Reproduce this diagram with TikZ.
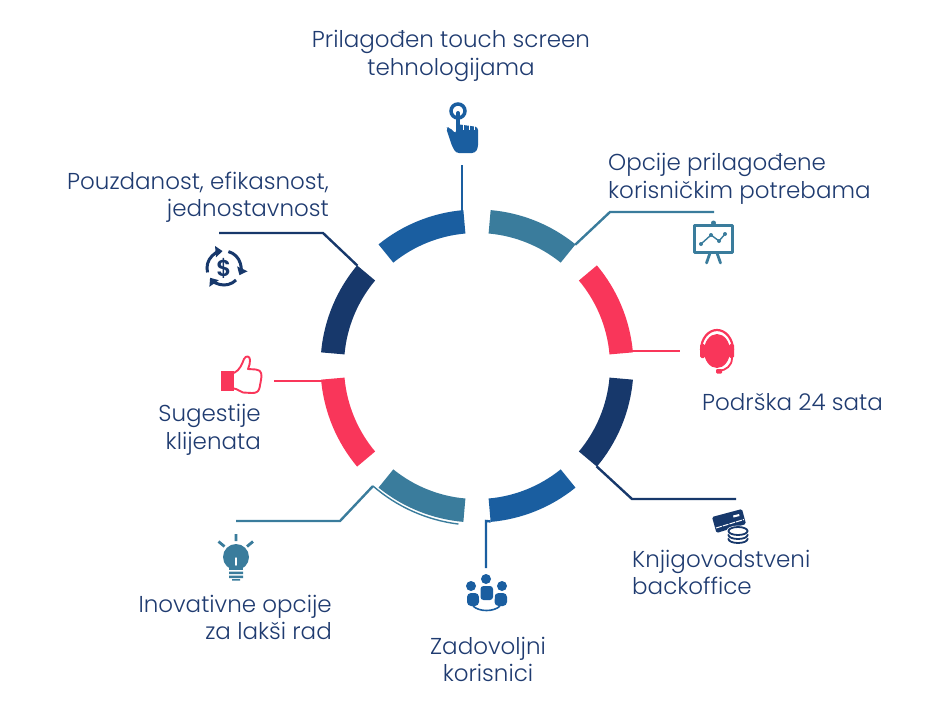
\documentclass[tikz,border=0pt]{standalone}
\usepackage{fontspec}
\setmainfont{Poppins Light}[BoldFont=Poppins SemiBold]
\usetikzlibrary{arrows.meta}
\definecolor{ringblue}{HTML}{1A5EA0}
\definecolor{ringteal}{HTML}{3A7C9C}
\definecolor{ringpink}{HTML}{F9365A}
\definecolor{ringnavy}{HTML}{17386B}
\definecolor{labeltext}{HTML}{1F3B70}
\newcommand{\ringseg}[3]{\fill[#1] (#2:156.5) arc (#2:#3:156.5) -- (#3:133) arc (#3:#2:133) -- cycle;}
\tikzset{
    caption/.style={text=labeltext,font=\fontsize{23}{27.5}\selectfont,inner sep=0pt},
    lead/.style={line width=2.4pt}
}
\begin{document}
\begin{tikzpicture}[x=1pt,y=-1pt]

    \useasboundingbox (0,0) rectangle (947,710);

    % ring
    \begin{scope}[shift={(477,366)}]
        \ringseg{ringteal}{-85}{-51}
        \ringseg{ringpink}{-40}{-5}
        \ringseg{ringnavy}{5}{40}
        \ringseg{ringblue}{51}{85}
        \ringseg{ringteal}{95}{129}
        \ringseg{ringpink}{140}{175}
        \ringseg{ringnavy}{-175}{-140}
        \ringseg{ringblue}{-129}{-95}

        \coordinate (topseg) at (-95:156);
        \coordinate (optseg) at (-51:156);
        \coordinate (supseg) at (-5:156);
        \coordinate (accseg) at (40:156);
        \coordinate (usrseg) at (85:156);
        \coordinate (sugseg) at (175:156);
        \coordinate (relseg) at (-140:156);
    \end{scope}

    % lead lines
    \coordinate (topend) at (462,165);
    \coordinate (optbend) at (610,212);
    \coordinate (optend) at (714,212);
    \coordinate (supend) at (680,351);
    \coordinate (accbend) at (632,499);
    \coordinate (accend) at (736,499);
    \coordinate (usrbend) at (486,521);
    \coordinate (usrend) at (486,568);
    \coordinate (inoend) at (236,521);
    \coordinate (inobend) at (340,521);
    \coordinate (inotip) at (373,486);
    \coordinate (sugend) at (274,381);
    \coordinate (relend) at (219,233);
    \coordinate (relbend) at (323,233);

    \draw[lead,ringblue] (topend) -- (topend |- topseg);
    \draw[lead,ringteal] (optseg) -- (optbend) -- (optend);
    \draw[lead,ringpink] (supend -| supseg) -- (supend);
    \draw[lead,ringnavy] (accseg) -- (accbend) -- (accend);
    \draw[lead,ringblue] (usrseg) -- (usrbend) -- (usrend);
    \draw[lead,ringteal] (inoend) -- (inobend) -- (inotip);
    \draw[ringteal,line width=1.4pt] (inotip) arc (131:97:160);
    \draw[lead,ringpink] (sugend) -- (sugend -| sugseg);
    \draw[lead,ringnavy] (relend) -- (relbend) -- (relseg);

    % hand icon
    \draw[ringblue,line width=3.5pt] (458,111) circle (7);
    \draw[ringblue,line width=4pt,line cap=round] (458,113) -- (458,130);
    \fill[ringblue,rounded corners=3pt] (446,128) -- (449,127) -- (456,134) -- (456,124) -- (478,127)
        -- (478,148) -- (475,153) -- (456,153) -- (452,146) -- cycle;
    \draw[white,line width=0.8pt] (463.5,123) -- (463.5,130) (469.5,123) -- (469.5,130) (474.5,124) -- (474.5,130);

    % chart icon
    \fill[ringteal] (713.5,223) circle (2.5);
    \draw[ringteal,line width=3pt,line join=round] (694.5,225.5) rectangle (732.5,252);
    \draw[ringteal,line width=2.8pt,line cap=round] (710,253) -- (706.5,263) (717,253) -- (720.5,263);
    \draw[ringteal,line width=1.4pt] (701,244) -- (711,235) -- (719,241) -- (725,234);
    \foreach \px/\py in {701/244,711/235,719/241,725/234}
        \fill[ringteal] (\px,\py) circle (2);

    % headset icon
    \fill[ringpink] (717,351) ellipse (13 and 17);
    \draw[ringpink,line width=2.2pt] (701,350) arc (180:360:16 and 20);
    \fill[ringpink,rounded corners=1.5pt] (700,344) rectangle (705,358) (729,344) rectangle (734,358);
    \draw[ringpink,line width=1.8pt] (732,358) .. controls (732,366) and (726,370) .. (719,371);
    \fill[ringpink,rounded corners=1pt] (716,369) rectangle (722,373.5);

    % card icon
    \fill[ringnavy,rounded corners=1.5pt] (712,517) -- (742,509) -- (746,524) -- (716.5,533) -- cycle;
    \draw[white,line width=1pt,dash pattern=on 6pt off 1pt] (716,528) -- (744,519.5);
    \fill[white] (733,515.5) -- (739,514) -- (739.5,516) -- (733.5,517.5) -- cycle;
    \foreach \py in {539,535,531}{
        \fill[white] (738,\py) ellipse (11.5 and 5.5);
        \draw[ringnavy,line width=1.8pt] (738,\py) ellipse (9.5 and 4);
    }

    % people icon
    \fill[ringblue] (486,579) circle (5);
    \fill[ringblue] (471,586) circle (5);
    \fill[ringblue] (502,586) circle (5);
    \fill[ringblue,rounded corners=4pt] (467,593) rectangle (479,606);
    \fill[ringblue,rounded corners=4pt] (494.5,593) rectangle (507,606);
    \fill[white,rounded corners=3pt] (479,584.5) rectangle (494.5,601.5);
    \fill[ringblue,rounded corners=3pt] (480.5,586) rectangle (493,600);
    \draw[ringblue,line width=1.6pt] (473,606) .. controls (479,612) and (494,612) .. (500,606);

    % bulb icon
    \fill[ringteal] (236,557) circle (13);
    \fill[ringteal] (229,565) -- (243,565) -- (243,570) -- (229,570) -- cycle;
    \fill[ringteal] (229,571.5) rectangle (243,574) (229,575.5) rectangle (243,578) (232,579) rectangle (240,580.5);
    \draw[white,line width=1.5pt,line cap=round] (236,558) -- (236,565);
    \draw[ringteal,line width=2.8pt] (236,534) -- (236,541) (218.5,541.5) -- (224.5,546.5) (253,541.5) -- (247,546.5);

    % dollar icon
    \foreach \ang in {-195,-75,45}
        \draw[ringnavy,line width=3pt,-{Triangle[length=7pt,width=11pt]}] (224,268) ++(\ang:17) arc (\ang:\ang+100:17);
    \node[ringnavy,font=\fontsize{23}{23}\selectfont\bfseries,inner sep=0pt] (dollar) at (224,268) {\$};

    % thumb icon
    \fill[ringpink] (221,371) rectangle (234,391);
    \draw[ringpink,line width=1.9pt,line join=round] (234,373) .. controls (240,370) and (242,364) .. (244,359)
        .. controls (246,355) and (250,356) .. (250,360) .. controls (250.5,363) and (249,366) .. (248,369)
        -- (256,369.5) .. controls (262,370) and (262,375) .. (261,380) -- (259.5,388)
        .. controls (258.5,392) and (256,393) .. (252,393) -- (243,392.5) .. controls (240,392) and (238,389) .. (234,388.5);

    % labels
    \node[caption,align=center] (touch) at (451,56) {Prilagođen touch screen\\tehnologijama};
    \node[caption,align=left,anchor=west] (options) at (608,179) {Opcije prilagođene\\korisničkim potrebama};
    \node[caption,anchor=west] (support) at (702,402) {Podrška 24 sata};
    \node[caption,align=left,anchor=west] (accounting) at (632,572.5) {Knjigovodstveni\\backoffice};
    \node[caption,align=center] (users) at (488,659.5) {Zadovoljni\\korisnici};
    \node[caption,align=right,anchor=east] (innovate) at (332,617.5) {Inovativne opcije\\za lakši rad};
    \node[caption,align=right,anchor=east] (suggest) at (261,430) {Sugestije\\klijenata};
    \node[caption,align=right,anchor=east] (reliable) at (329,197.5) {Pouzdanost, efikasnost,\\jednostavnost};

\end{tikzpicture}
\end{document}
